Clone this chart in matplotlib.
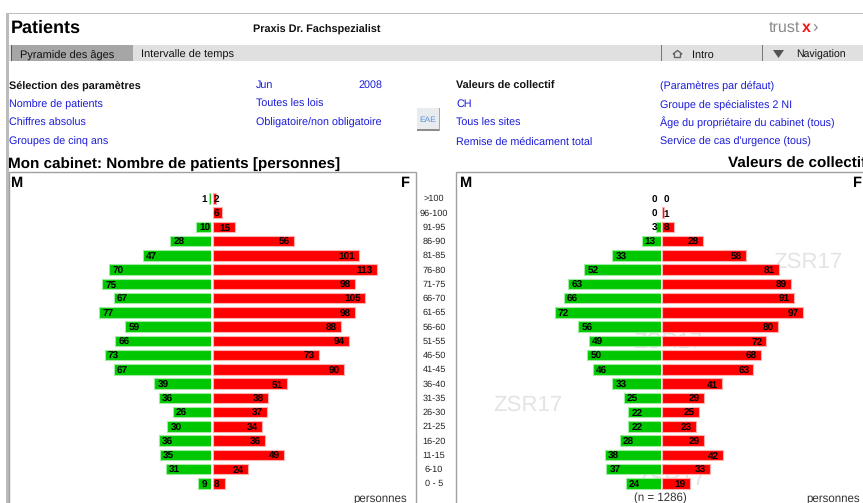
import matplotlib
matplotlib.use('Agg')
import matplotlib.pyplot as plt
from matplotlib.patches import Rectangle, Polygon

W, H = 863, 503

age_groups = ['>100', '96-100', '91-95', '86-90', '81-85', '76-80', '71-75', '66-70',
              '61-65', '56-60', '51-55', '46-50', '41-45', '36-40', '31-35', '26-30',
              '21-25', '16-20', '11-15', '6-10', '0 - 5']
# None = nothing drawn at all for that row
cabinet_m = [1, None, 10, 28, 47, 70, 75, 67, 77, 59, 66, 73, 67, 39, 36, 26, 30, 36, 35, 31, 9]
cabinet_f = [2, 6, 15, 56, 101, 113, 98, 105, 98, 88, 94, 73, 90, 51, 38, 37, 34, 36, 49, 24, 8]
collectif_m = [0, 0, 3, 13, 33, 52, 63, 66, 72, 56, 49, 50, 46, 33, 25, 22, 22, 28, 38, 37, 24]
collectif_f = [0, 1, 8, 28, 58, 81, 89, 91, 97, 80, 72, 68, 63, 41, 29, 25, 23, 29, 42, 33, 19]

plt.rcParams['font.family'] = ['Liberation Sans', 'DejaVu Sans']
plt.rcParams['text.hinting'] = 'no_hinting'

BLUE = '#1a1ad8'
GREEN = '#00c800'
RED = '#ff0000'
GREY = '#bcbcbc'

fig = plt.figure(figsize=(W / 100, H / 100), dpi=100)

# page chrome, in pixel coordinates
bg = fig.add_axes([0, 0, 1, 1], zorder=0)
bg.set_xlim(0, W)
bg.set_ylim(H, 0)
bg.axis('off')


def txt(x, y, s, size=7.75, color='#111111', weight='normal', ha='left'):
	# baseline placement so lines with and without descenders stay level
	base = y + size * 100 / 72 * 0.36
	bg.text(x, base, s, fontsize=size, color=color, fontweight=weight, ha=ha, va='baseline')


def box(x0, y0, x1, y1, **kw):
	bg.add_patch(Rectangle((x0, y0), x1 - x0, y1 - y0, **kw))


# outer page lines
box(5.5, 12.5, W, 14, color=GREY, lw=0)
box(5.5, 12.5, 8.5, H, color=GREY, lw=0)

txt(11, 26, 'Patients', size=13, weight='bold', color='black')
txt(253, 28.5, 'Praxis Dr. Fachspezialist', size=7.8, weight='bold')

# trustx logo
txt(768.5, 26.5, 'trust', size=11.6, color='#8a8a8a')
txt(801.5, 26.5, 'x', size=11.5, color='#f01818', weight='bold')
txt(812, 26, '\u203a', size=12, color='#8a8a8a')

# nav band
box(8.5, 44.5, W, 61, color='#e0e0e0', lw=0)
box(11, 44.5, 132.5, 61, color='#a6a6a6', lw=0)
box(10.5, 44.5, 12, 61, color='#555555', lw=0)
txt(20, 53.5, 'Pyramide des \u00e2ges', size=7.9)
txt(141, 53.5, 'Intervalle de temps', size=7.9)
box(660.5, 44.5, 661.5, 61, color='#777777', lw=0)
box(761.5, 44.5, 762.5, 61, color='#777777', lw=0)
bg.add_patch(Polygon([(673, 54), (677.5, 50.5), (682, 54), (680.5, 54), (680.5, 57.5), (674.5, 57.5), (674.5, 54)],
					 closed=True, fc='#e0e0e0', ec='#666666', lw=1))
txt(692, 53.5, 'Intro', size=7.8)
bg.add_patch(Polygon([(773, 50), (784, 50), (778.5, 58)], closed=True, fc='#555555', lw=0))
txt(796, 53.5, 'Navigation', size=7.6)

# parameter block
txt(9, 84.5, 'S\u00e9lection des param\u00e8tres', size=7.8, weight='bold')
txt(9, 103.5, 'Nombre de patients', color=BLUE)
txt(9, 122, 'Chiffres absolus', color=BLUE)
txt(9, 141, 'Groupes de cinq ans', color=BLUE)
txt(256, 84.5, 'Jun', color=BLUE)
txt(382, 84.5, '2008', color=BLUE, ha='right')
txt(256, 103.5, 'Toutes les lois', color=BLUE)
txt(256, 122, 'Obligatoire/non obligatoire', color=BLUE)
txt(456, 84.5, 'Valeurs de collectif', size=7.8, weight='bold')
txt(456, 103.5, 'CH', color=BLUE)
txt(456, 122, 'Tous les sites', color=BLUE)
txt(456, 141, 'Remise de m\u00e9dicament total', color=BLUE)
txt(660, 84.5, '(Param\u00e8tres par d\u00e9faut)', color=BLUE)
txt(660, 103.5, 'Groupe de sp\u00e9cialistes 2 NI', color=BLUE)
txt(660, 122, '\u00c2ge du propri\u00e9taire du cabinet (tous)', color=BLUE)
txt(660, 141, 'Service de cas d\'urgence (tous)', color=BLUE)

# EAE button
box(417, 107.5, 439, 129, fc='#e9ecef', lw=0)
box(417, 129, 439.5, 130.5, color='#8c8c8c', lw=0)
box(438.5, 107.5, 440, 130.5, color='#a8a8a8', lw=0)
txt(428, 119, 'EAE', size=6, color='#5a90d8', ha='center')

txt(8, 162.5, 'Mon cabinet: Nombre de patients [personnes]', size=11, weight='bold', color='black')
txt(728, 162.5, 'Valeurs de collectif', size=11, weight='bold', color='black')

# chart frames
box(8.5, 171.5, 415.5, H + 5, fc='white', ec='#a0a0a0', lw=1)
box(456, 171.5, W + 5, H + 5, fc='white', ec='#a0a0a0', lw=1)
txt(10, 181.5, 'M', size=10.5, weight='bold', color='black')
txt(400, 181.5, 'F', size=10.5, weight='bold', color='black')
txt(459, 181.5, 'M', size=10.5, weight='bold', color='black')
txt(852, 181.5, 'F', size=10.5, weight='bold', color='black')

# watermarks sit under the bars
for wx, wy in [(808, 262), (528, 405), (668, 342), (671, 479)]:
	bg.text(wx, wy, 'ZSR17', fontsize=16, color='#e4e4e4', ha='center', va='center')

for row, label in enumerate(age_groups):
	txt(434, 198 + row * 14.25, label, size=6.6, ha='center', color='#222222')

txt(407, 497.5, 'personnes', size=8.3, ha='right', color='#333333')
txt(860, 497.5, 'personnes', size=8.3, ha='right', color='#333333')
txt(660, 497.5, '(n = 1286)', size=8.3, ha='center', color='#333333')


def pyramid_side(x_zero, scale, values, color, edge, male):
	"""One half of a pyramid, x axis in persons growing away from x_zero."""
	width_px = 200
	left_px = x_zero - width_px if male else x_zero
	y_top = 191.0
	y_bot = 491.0
	ax = fig.add_axes([left_px / W, 1 - y_bot / H, width_px / W, (y_bot - y_top) / H], zorder=2)
	ax.patch.set_alpha(0)
	ax.axis('off')
	if male:
		ax.set_xlim(width_px / scale, 0)
	else:
		ax.set_xlim(0, width_px / scale)
	row_px = 14.25
	ax.set_ylim((y_bot - 198.3) / row_px, (y_top - 198.3) / row_px)
	for row, v in enumerate(values):
		if v is None:
			continue
		if v > 0:
			ax.barh(row, v, height=0.74, color=color, edgecolor=edge, linewidth=0.8)
		# single digits hug the centre line, the rest sit at the outer bar end
		if male:
			anchor, dx, ha = (0, -2.5, 'right') if v < 10 else (v, 2.2, 'left')
		else:
			anchor, dx, ha = (0, 0.8, 'left') if v < 10 else (v, -3, 'right')
		ax.annotate(str(v), (anchor, row), xytext=(dx, -3), textcoords='offset points',
					ha=ha, va='baseline', fontsize=7.2, fontweight='bold', color='black')


pyramid_side(210.8, 1.45, cabinet_m, GREEN, '#a0eca0', True)
pyramid_side(213.0, 1.45, cabinet_f, RED, '#ffb0b0', False)
pyramid_side(660.8, 1.47, collectif_m, GREEN, '#a0eca0', True)
pyramid_side(662.4, 1.445, collectif_f, RED, '#ffb0b0', False)

fig.savefig('out.png', dpi=100)
